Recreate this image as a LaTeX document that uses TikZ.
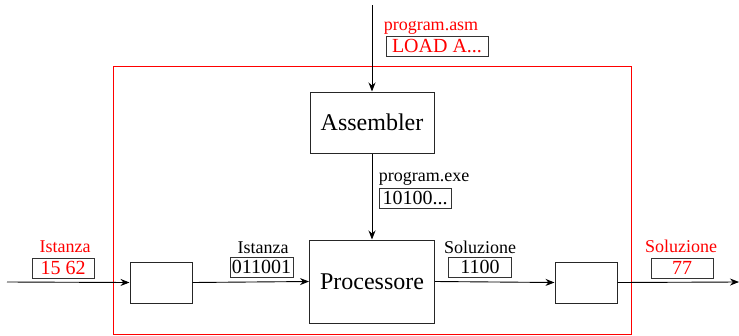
\documentclass[tikz,border=0pt]{standalone}
\usepackage{fontspec}
\setmainfont{Liberation Serif}
\usetikzlibrary{arrows.meta}
\begin{document}
\begin{tikzpicture}[x=1pt,y=-1pt,
  blk/.style={draw=black!85, line width=1pt, inner sep=0pt, font=\fontsize{24}{24}\selectfont},
  val/.style={draw=black!80, line width=0.8pt, inner sep=0pt, minimum height=20pt, font=\fontsize{20}{20}\selectfont},
  lbl/.style={inner sep=0pt, anchor=base, font=\fontsize{18}{18}\selectfont},
  arr/.style={-{Stealth[length=9pt,width=7pt]}, line width=0.9pt}]
\useasboundingbox (0,0) rectangle (739,335);
\draw[red, line width=0.9pt] (113,66) rectangle (631,334);
% blocks
\node[blk, minimum width=124pt, minimum height=61pt] (asm) at (372,122.5) {Assembler};
\node[blk, minimum width=125pt, minimum height=83pt] (proc) at (372,281.5) {Processore};
\node[blk, minimum width=62pt, minimum height=41pt] (lb) at (161,282.5) {};
\node[blk, minimum width=62pt, minimum height=41pt] (rb) at (586,282.5) {};
% connectors
\coordinate (top) at (372,5);
\coordinate (in) at (7,282);
\coordinate (out) at (739,282);
\draw[arr] (top) -- (asm.north);
\draw[arr] (asm.south) -- (proc.north);
\draw[arr] (in) -- (lb.west);
\draw[arr] (lb.east) -- (proc.west);
\draw[arr] (proc.east) -- (rb.west);
\draw[arr] (rb.east) -- (out);
% labels
\node[lbl, text=red] (asmlbl) at (431,30) {program.asm};
\node[val, text=red, minimum width=102pt] (asmval) at (437,46) {LOAD A...};
\node[lbl] (exelbl) at (424,181) {program.exe};
\node[val, minimum width=72pt] (exeval) at (415,198) {10100...};
\node[lbl, text=red] (inlbl) at (65,252) {Istanza};
\node[val, text=red, minimum width=62pt] (inval) at (63,268) {15 62};
\node[lbl] (binlbl) at (263,253) {Istanza};
\node[val, minimum width=63pt] (binval) at (261.5,267) {011001};
\node[lbl] (boutlbl) at (480,253) {Soluzione};
\node[val, minimum width=63pt] (boutval) at (480,267) {1100};
\node[lbl, text=red] (outlbl) at (681,252) {Soluzione};
\node[val, text=red, minimum width=62pt] (outval) at (682,268) {77};
\end{tikzpicture}
\end{document}
